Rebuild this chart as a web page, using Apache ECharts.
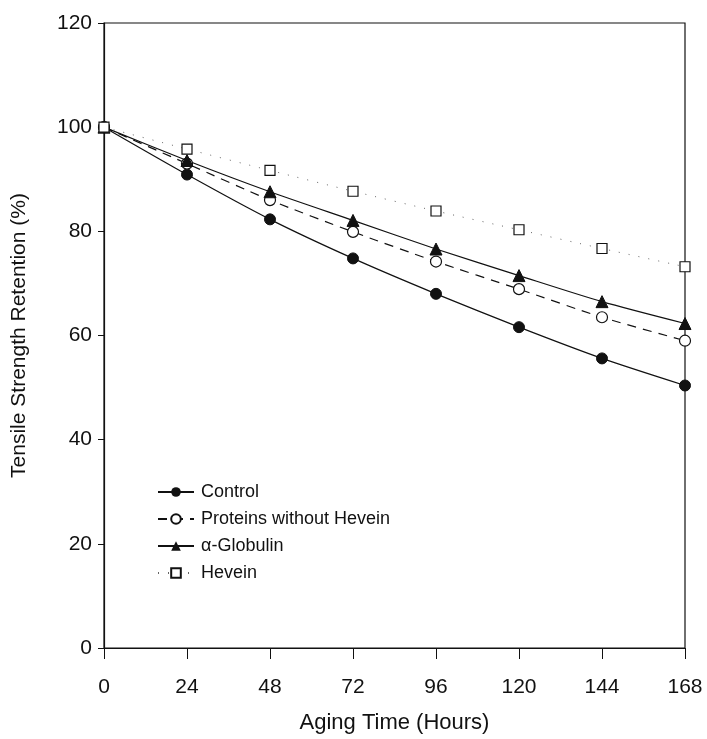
<!DOCTYPE html>
<html>
<head>
<meta charset="utf-8">
<script src="https://cdn.jsdelivr.net/npm/echarts@6/dist/echarts.min.js"></script>
<style>html,body{margin:0;padding:0;background:#fff}#c{width:707px;height:739px}</style>
</head>
<body>
<div id="c"></div>
<script>
var hours = [0, 24, 48, 72, 96, 120, 144, 168];
var control = [100, 90.9, 82.3, 74.8, 68.0, 61.6, 55.6, 50.4];
var proteinsWithoutHevein = [100, 93.0, 86.0, 79.9, 74.2, 68.9, 63.5, 59.0];
var alphaGlobulin = [100, 93.6, 87.6, 82.1, 76.6, 71.5, 66.5, 62.3];
var hevein = [100, 95.8, 91.7, 87.7, 83.9, 80.3, 76.7, 73.2];
var xTicks = [0, 24, 48, 72, 96, 120, 144, 168];
var yTicks = [0, 20, 40, 60, 80, 100, 120];

function pairs(vals) { return hours.map(function (h, i) { return [h, vals[i]]; }); }

var font = '"Liberation Sans", Arial, sans-serif';
var chart = echarts.init(document.getElementById('c'));
chart.setOption({
  animation: false,
  backgroundColor: '#fff',
  grid: { left: 104, right: 22, top: 23, bottom: 91, show: true, borderColor: '#111', borderWidth: 1.2,
    containLabel: false, outerBoundsMode: 'none' },
  xAxis: {
    type: 'value', min: 0, max: 168, interval: 24,
    name: 'Aging Time (Hours)', nameLocation: 'middle', nameGap: 64,
    nameTextStyle: { fontFamily: font, fontSize: 22, color: '#111' },
    axisLine: { lineStyle: { color: '#111', width: 1.2 } },
    axisTick: { show: true, length: 11, lineStyle: { color: '#111' } },
    axisLabel: { fontFamily: font, fontSize: 21, color: '#111', margin: 29,
      formatter: function (v) { return xTicks.indexOf(v) >= 0 ? String(v) : ''; } },
    splitLine: { show: false }
  },
  yAxis: {
    type: 'value', min: 0, max: 120, interval: 20,
    name: 'Tensile Strength Retention (%)', nameLocation: 'middle', nameGap: 74,
    nameTextStyle: { fontFamily: font, fontSize: 21, color: '#111' },
    axisLine: { show: true, lineStyle: { color: '#111', width: 1.2 } },
    axisTick: { show: true, length: 6, lineStyle: { color: '#111' } },
    axisLabel: { fontFamily: font, fontSize: 21, color: '#111', margin: 12,
      formatter: function (v) { return yTicks.indexOf(v) >= 0 ? String(v) : ''; } },
    splitLine: { show: false }
  },
  legend: {
    orient: 'vertical', left: 152, top: 478, itemGap: 9, itemWidth: 36, itemHeight: 12,
    textStyle: { fontFamily: font, fontSize: 18, color: '#111', padding: [0, 0, 0, 2] },
    data: ['Control', 'Proteins without Hevein', 'α-Globulin', 'Hevein']
  },
  series: [
    { name: 'Control', type: 'line', data: pairs(control), smooth: 0.25,
      symbol: 'circle', symbolSize: 11,
      itemStyle: { color: '#111', borderColor: '#111' },
      lineStyle: { color: '#111', width: 1.2, type: 'solid' } },
    { name: 'Proteins without Hevein', type: 'line', data: pairs(proteinsWithoutHevein), smooth: 0.25,
      symbol: 'circle', symbolSize: 11,
      itemStyle: { color: '#fff', borderColor: '#111', borderWidth: 1.2 },
      lineStyle: { color: '#111', width: 1.2, type: [9, 7] } },
    { name: 'α-Globulin', type: 'line', data: pairs(alphaGlobulin), smooth: 0.25,
      symbol: 'triangle', symbolSize: 12,
      itemStyle: { color: '#111', borderColor: '#111' },
      lineStyle: { color: '#111', width: 1.2, type: 'solid' } },
    { name: 'Hevein', type: 'line', data: pairs(hevein), smooth: 0.25,
      symbol: 'rect', symbolSize: 10,
      itemStyle: { color: '#fff', borderColor: '#111', borderWidth: 1.2 },
      lineStyle: { color: '#666', width: 1, type: [1, 9] } }
  ]
});
</script>
</body>
</html>
